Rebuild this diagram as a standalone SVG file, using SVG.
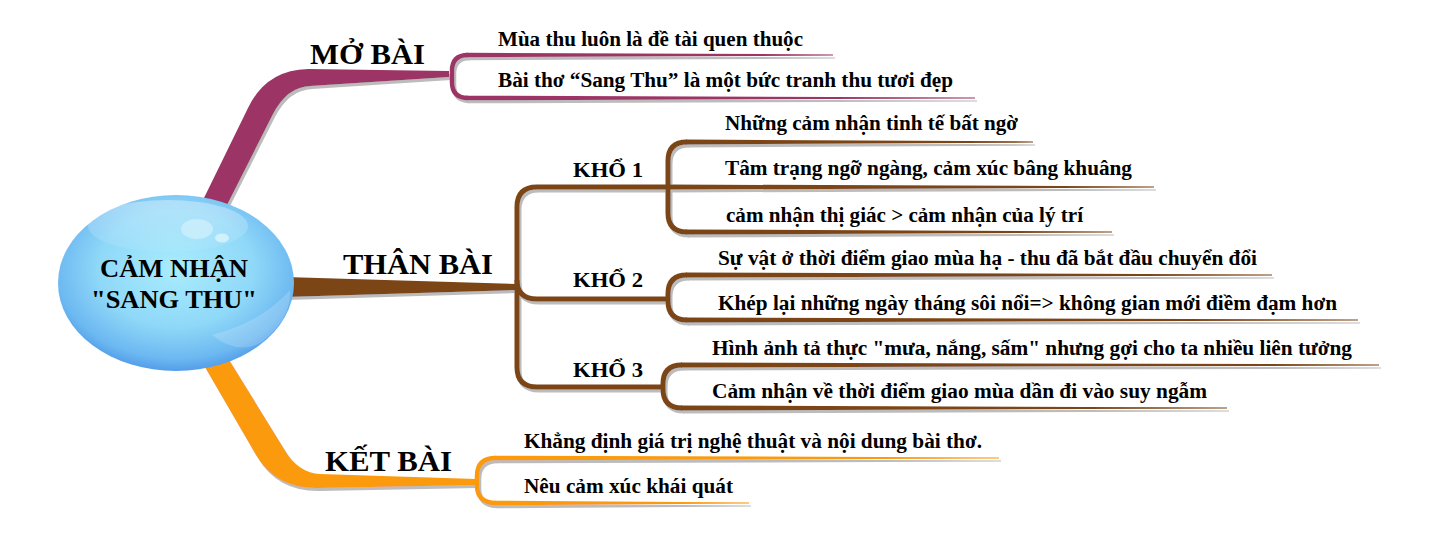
<svg xmlns="http://www.w3.org/2000/svg" width="1431" height="534" viewBox="0 0 1431 534">
<defs>
<style>
.pu{fill:#9c3566}.br{fill:#7c4515}.or{fill:#fb9a0c}
.spu{fill:none;stroke:#9c3566;stroke-width:4.5}
.sbr{fill:none;stroke:#7c4515;stroke-width:5}
.sor{fill:none;stroke:#fb9a0c;stroke-width:4.5}
.leaf{font-size:20px}.kho{font-size:22px}.lab{font-size:30px}.ctr{font-size:26px;text-anchor:middle}
</style>
<filter id="sh" x="-5%" y="-5%" width="110%" height="120%">
<feOffset in="SourceAlpha" dx="2" dy="3" result="o"/>
<feFlood flood-color="#bcbcbc"/>
<feComposite in2="o" operator="in" result="s"/>
<feMerge><feMergeNode in="s"/><feMergeNode in="SourceGraphic"/></feMerge>
</filter>
<radialGradient id="ball" cx="50%" cy="42%" r="60%">
<stop offset="0" stop-color="#a9ecfd"/>
<stop offset="0.55" stop-color="#8fd8f8"/>
<stop offset="0.85" stop-color="#6cb8f1"/>
<stop offset="1" stop-color="#4c96e6"/>
</radialGradient>
<linearGradient id="gloss" x1="0" y1="0" x2="0" y2="1">
<stop offset="0" stop-color="#fff" stop-opacity="0.35"/>
<stop offset="1" stop-color="#fff" stop-opacity="0.05"/>
</linearGradient>
</defs>
<rect width="1431" height="534" fill="#fff"/>
<g id="connectors" filter="url(#sh)">
<g id="mo-bai-branch">
<path class="pu" d="M203,200 L248,108 Q266,70 308,69 L449,71 L449,77 L310,86 Q287,87 273,114 L226,207 Z"/>
<path class="spu" d="M468,55 Q452,55 452,71 L452,82 Q452,98 468,98"/>
<path class="pu" d="M466,52.7 L833,54.4 L833,55.6 L466,57.3 Z"/>
<path class="pu" d="M466,95.7 L975,97.4 L975,98.6 L466,100.3 Z"/>
</g>
<g id="than-bai-branch">
<path class="br" d="M285,277 L518,284 L518,290 L285,297 Z"/>
<path class="sbr" d="M669,187 L537,187 Q517,187 517,207 L517,367 Q517,387 537,387 L664,387"/>
<path class="sbr" d="M517,280 Q517,299 537,299 L669,299"/>
<path class="sbr" d="M687,142 Q668,142 668,161 L668,213 Q668,232 687,232"/>
<path class="sbr" d="M687,275 Q668,275 668,294 L668,301 Q668,320 687,320"/>
<path class="sbr" d="M682,365 Q663,365 663,384 L663,389 Q663,408 682,408"/>
<path class="br" d="M686,139.5 L1033,141.4 L1033,142.6 L686,144.5 Z"/>
<path class="br" d="M668,184.5 L1154,186.4 L1154,187.6 L668,189.5 Z"/>
<path class="br" d="M686,229.5 L1112,231.4 L1112,232.6 L686,234.5 Z"/>
<path class="br" d="M686,272.5 L1272,274.4 L1272,275.6 L686,277.5 Z"/>
<path class="br" d="M686,317.5 L1358,319.4 L1358,320.6 L686,322.5 Z"/>
<path class="br" d="M681,362.5 L1379,364.4 L1379,365.6 L681,367.5 Z"/>
<path class="br" d="M681,405.5 L1227,407.4 L1227,408.6 L681,410.5 Z"/>
</g>
<g id="ket-bai-branch">
<path class="or" d="M202,362 L256,455 Q276,489 318,488 L476,485 L476,479 L320,474 Q298,473 284,449 L226,355 Z"/>
<path class="sor" d="M496,458 Q477,458 477,476 L477,485 Q477,503 496,503"/>
<path class="or" d="M495,455.7 L999,457.4 L999,458.6 L495,460.3 Z"/>
<path class="or" d="M495,500.7 L749,502.4 L749,503.6 L495,505.3 Z"/>
</g>
</g>
<g id="center-node">
<ellipse cx="176" cy="283" rx="118" ry="88" fill="url(#ball)"/>
<ellipse cx="168" cy="226" rx="80" ry="26" fill="url(#gloss)"/>
<path d="M212,335 Q262,322 290,290 Q292,318 262,342 Q238,356 212,335 Z" fill="#fff" opacity="0.18"/>
<ellipse cx="197" cy="229" rx="16" ry="10" fill="#fff" opacity="0.35"/>
<ellipse cx="222" cy="238" rx="7" ry="4.5" fill="#fff" opacity="0.5"/>
<g font-family="Liberation Serif, serif" font-weight="bold" fill="#000">
<text class="ctr" x="174" y="277" textLength="148" lengthAdjust="spacingAndGlyphs">CẢM NHẬN</text>
<text class="ctr" x="174" y="308" textLength="166" lengthAdjust="spacingAndGlyphs">"SANG THU"</text>
</g>
</g>
<g font-family="Liberation Serif, serif" font-weight="bold" fill="#000">
<g id="mo-bai">
<text class="lab" x="310" y="64" textLength="115" lengthAdjust="spacingAndGlyphs">MỞ BÀI</text>
</g>
<g id="mo-bai-1"><text class="leaf" x="498" y="46" textLength="305" lengthAdjust="spacingAndGlyphs">Mùa thu luôn là đề tài quen thuộc</text></g>
<g id="mo-bai-2"><text class="leaf" x="498" y="87" textLength="455" lengthAdjust="spacingAndGlyphs">Bài thơ “Sang Thu” là một bức tranh thu tươi đẹp</text></g>
<g id="than-bai">
<text class="lab" x="343" y="274" textLength="150" lengthAdjust="spacingAndGlyphs">THÂN BÀI</text>
</g>
<g id="kho-1"><text class="kho" x="573" y="177" textLength="70" lengthAdjust="spacingAndGlyphs">KHỔ 1</text></g>
<g id="kho-1-a"><text class="leaf" x="725" y="130" textLength="293" lengthAdjust="spacingAndGlyphs">Những cảm nhận tinh tế bất ngờ</text></g>
<g id="kho-1-b"><text class="leaf" x="725" y="175" textLength="407" lengthAdjust="spacingAndGlyphs">Tâm trạng ngỡ ngàng, cảm xúc bâng khuâng</text></g>
<g id="kho-1-c"><text class="leaf" x="726" y="222" textLength="357" lengthAdjust="spacingAndGlyphs">cảm nhận thị giác &gt; cảm nhận của lý trí</text></g>
<g id="kho-2"><text class="kho" x="573" y="287" textLength="70" lengthAdjust="spacingAndGlyphs">KHỔ 2</text></g>
<g id="kho-2-a"><text class="leaf" x="718" y="265" textLength="539" lengthAdjust="spacingAndGlyphs">Sự vật ở thời điểm giao mùa hạ - thu đã bắt đầu chuyển đổi</text></g>
<g id="kho-2-b"><text class="leaf" x="718" y="310" textLength="619" lengthAdjust="spacingAndGlyphs">Khép lại những ngày tháng sôi nổi=&gt; không gian mới điềm đạm hơn</text></g>
<g id="kho-3"><text class="kho" x="573" y="377" textLength="70" lengthAdjust="spacingAndGlyphs">KHỔ 3</text></g>
<g id="kho-3-a"><text class="leaf" x="712" y="355" textLength="640" lengthAdjust="spacingAndGlyphs">Hình ảnh tả thực "mưa, nắng, sấm" nhưng gợi cho ta nhiều liên tưởng</text></g>
<g id="kho-3-b"><text class="leaf" x="712" y="398" textLength="495" lengthAdjust="spacingAndGlyphs">Cảm nhận về thời điểm giao mùa dần đi vào suy ngẫm</text></g>
<g id="ket-bai">
<text class="lab" x="325" y="471" textLength="127" lengthAdjust="spacingAndGlyphs">KẾT BÀI</text>
</g>
<g id="ket-bai-1"><text class="leaf" x="524" y="448" textLength="458" lengthAdjust="spacingAndGlyphs">Khẳng định giá trị nghệ thuật và nội dung bài thơ.</text></g>
<g id="ket-bai-2"><text class="leaf" x="524" y="493" textLength="209" lengthAdjust="spacingAndGlyphs">Nêu cảm xúc khái quát</text></g>
</g>
</svg>
